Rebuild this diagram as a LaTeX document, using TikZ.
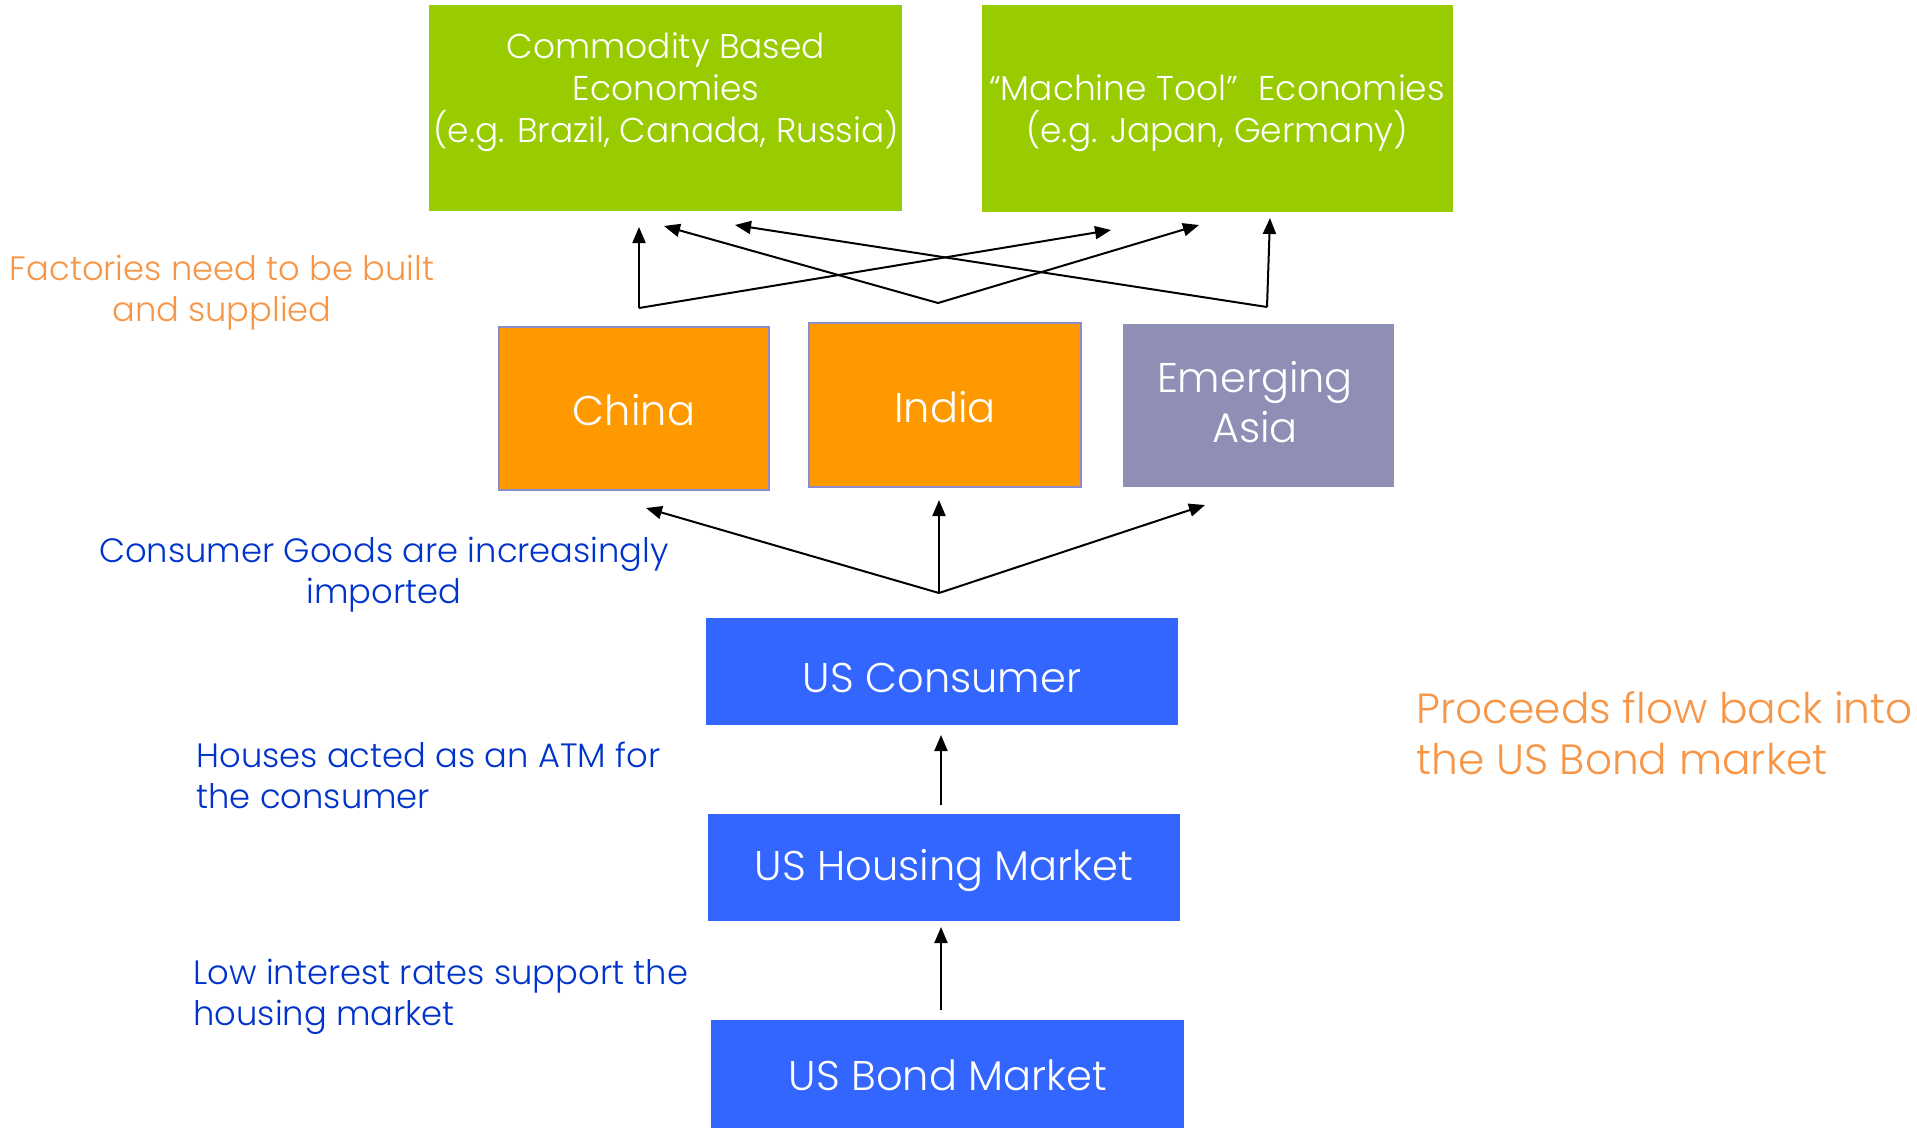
\documentclass[tikz,border=0pt]{standalone}
\usepackage{fontspec}
\setmainfont{Poppins}[UprightFont={* Light}]
\usetikzlibrary{arrows.meta}
\definecolor{boxgreen}{HTML}{99CC00}
\definecolor{boxorange}{HTML}{FF9900}
\definecolor{boxpurple}{HTML}{8F8FB5}
\definecolor{boxblue}{HTML}{3366FF}
\definecolor{edgelav}{HTML}{8C8CC8}
\definecolor{txtblue}{HTML}{0033CC}
\definecolor{txtorange}{HTML}{F79646}
\tikzset{
  boxshape/.style={draw=none, inner sep=0pt, outer sep=0pt},
  greenbox/.style={boxshape, fill=boxgreen},
  orangebox/.style={boxshape, fill=boxorange, draw=edgelav, line width=0.8pt},
  purplebox/.style={boxshape, fill=boxpurple},
  bluebox/.style={boxshape, fill=boxblue},
  intext/.style={text=white, inner sep=0pt, anchor=base, align=center},
  smalltxt/.style={font=\fontsize{13.5pt}{16.4pt}\selectfont},
  midtxt/.style={font=\fontsize{13.75pt}{16.8pt}\selectfont},
  bigtxt/.style={font=\fontsize{16.6pt}{20pt}\selectfont},
  sidetxt/.style={font=\fontsize{16.9pt}{20.4pt}\selectfont},
  flow/.style={draw=black, line width=0.8pt, -{Triangle[length=6.4pt,width=5.2pt]}}
}
\begin{document}
\begin{tikzpicture}[x=0.4pt, y=-0.4pt]
\useasboundingbox (0,0) rectangle (1917,1127);
% boxes
\node[greenbox, minimum width=473*0.4pt, minimum height=206*0.4pt] (commodity) at (665.5,108) {};
\node[greenbox, minimum width=471*0.4pt, minimum height=207*0.4pt] (machine) at (1217.5,108.5) {};
\node[orangebox, minimum width=270*0.4pt, minimum height=163*0.4pt] (china) at (634,408.5) {};
\node[orangebox, minimum width=272*0.4pt, minimum height=164*0.4pt] (india) at (945,405) {};
\node[purplebox, minimum width=271*0.4pt, minimum height=163*0.4pt] (asia) at (1258.5,405.5) {};
\node[bluebox, minimum width=472*0.4pt, minimum height=107*0.4pt] (consumer) at (942,671.5) {};
\node[bluebox, minimum width=472*0.4pt, minimum height=107*0.4pt] (housing) at (944,867.5) {};
\node[bluebox, minimum width=473*0.4pt, minimum height=110*0.4pt] (bond) at (947.5,1075) {};
% box texts (base anchor = baseline of last line)
\node[intext, midtxt] (commodityT) at (666,142) {Commodity Based\\Economies\\(e.g. Brazil, Canada, Russia)};
\node[intext, midtxt] (machineT) at (1217,142) {“Machine Tool”\hspace{0.6em}Economies\\(e.g. Japan, Germany)};
\node[intext, bigtxt] (chinaT) at (634,425) {China};
\node[intext, bigtxt] (indiaT) at (945,422) {India};
\node[intext, bigtxt] (asiaT) at (1255,442) {Emerging\\Asia};
\node[intext, bigtxt] (consumerT) at (942,692) {US Consumer};
\node[intext, bigtxt] (housingT) at (944,880) {US Housing Market};
\node[intext, bigtxt] (bondT) at (948,1090) {US Bond Market};
% side texts
\node[smalltxt, text=txtorange, anchor=base, align=center, inner sep=0pt] (factT) at (222,321) {Factories need to be built\\and supplied};
\node[smalltxt, text=txtblue, anchor=base, align=center, inner sep=0pt] (goodsT) at (384,603) {Consumer Goods are increasingly\\imported};
\node[smalltxt, text=txtblue, anchor=base west, align=left, inner sep=0pt] (atmT) at (196,808) {Houses acted as an ATM for\\the consumer};
\node[smalltxt, text=txtblue, anchor=base west, align=left, inner sep=0pt] (lowT) at (193,1025) {Low interest rates support the\\housing market};
\node[sidetxt, text=txtorange, anchor=base west, align=left, inner sep=0pt] (procT) at (1416,774) {Proceeds flow back into\\the US Bond market};
% connector coordinates
\coordinate (jChina) at (639,308);
\coordinate (jIndia) at (938,303);
\coordinate (jAsia) at (1267,307);
\coordinate (tC1) at (639,227);
\coordinate (tC2) at (1111,230);
\coordinate (tI1) at (664,226);
\coordinate (tI2) at (1199,225);
\coordinate (tA1) at (1270,218);
\coordinate (tA2) at (735,225);
\coordinate (jCons) at (939,593);
\coordinate (tU1) at (646,508);
\coordinate (tU2) at (939,500);
\coordinate (tU3) at (1205,505);
\coordinate (sH) at (941,805);
\coordinate (tH) at (941,735);
\coordinate (sB) at (941,1010);
\coordinate (tB) at (941,927);
% connectors
\draw[flow] (jChina) -- (tC1);
\draw[flow] (jChina) -- (tC2);
\draw[flow] (jIndia) -- (tI1);
\draw[flow] (jIndia) -- (tI2);
\draw[flow] (jAsia) -- (tA1);
\draw[flow] (jAsia) -- (tA2);
\draw[flow] (jCons) -- (tU1);
\draw[flow] (jCons) -- (tU2);
\draw[flow] (jCons) -- (tU3);
\draw[flow] (sH) -- (tH);
\draw[flow] (sB) -- (tB);
\end{tikzpicture}
\end{document}
